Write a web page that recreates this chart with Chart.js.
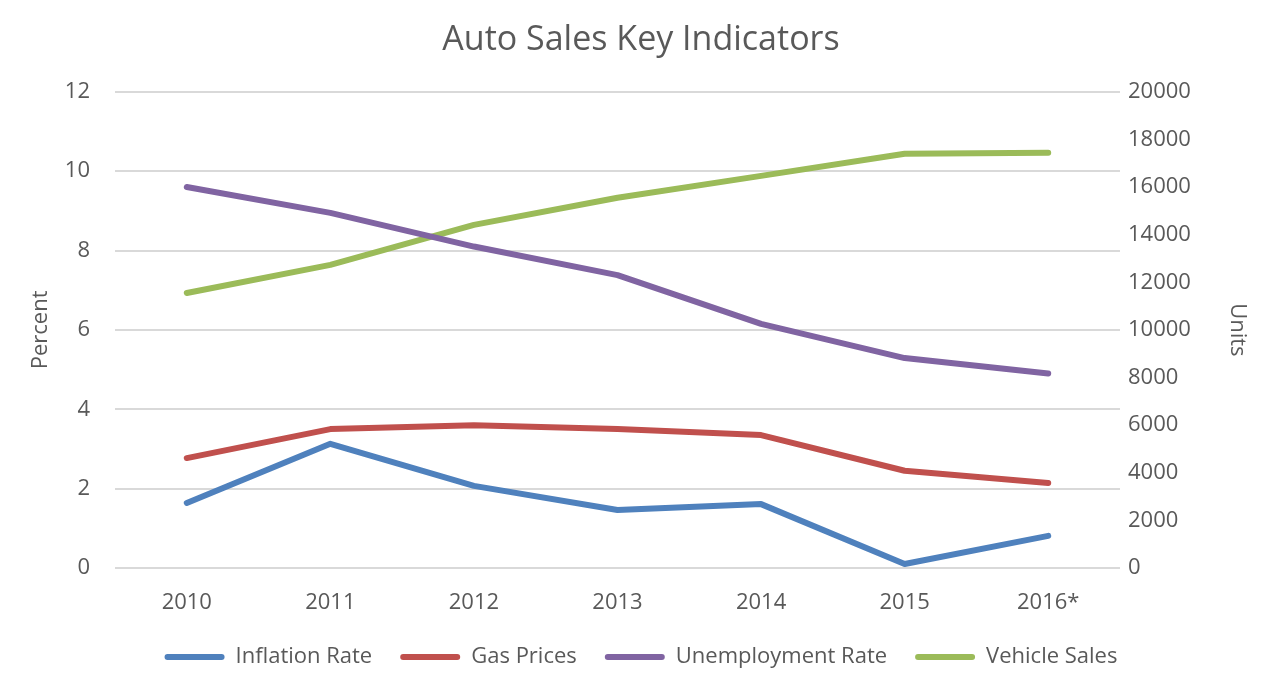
<!DOCTYPE html>
<html>
<head>
<meta charset="utf-8">
<script src="https://cdn.jsdelivr.net/npm/chart.js@4"></script>
<style>
  html, body { margin: 0; padding: 0; background: #fff; }
  #wrap { width: 1283px; height: 681px; }
</style>
</head>
<body>
<div id="wrap"><canvas id="salesChart"></canvas></div>
<script>
// Chart data
const years = ["2010", "2011", "2012", "2013", "2014", "2015", "2016*"];
const inflationRate = [1.64, 3.13, 2.07, 1.46, 1.61, 0.1, 0.81];
const gasPrices = [2.77, 3.5, 3.6, 3.5, 3.35, 2.45, 2.14];
const unemploymentRate = [9.6, 8.95, 8.1, 7.38, 6.15, 5.29, 4.9];
const vehicleSales = [11550, 12730, 14410, 15550, 16470, 17400, 17440];

const textColor = "#595959";
const fontFamily = "'Open Sans', 'Noto Sans', sans-serif";
const tickFont = { family: fontFamily, size: 22 };

function lineSeries(label, data, color, axis) {
  return {
    label,
    data,
    yAxisID: axis,
    borderColor: color,
    backgroundColor: color,
    borderWidth: 6,
    pointRadius: 0,
    tension: 0,
    borderCapStyle: "round",
    borderJoinStyle: "round",
  };
}

const ctx = document.getElementById("salesChart").getContext("2d");
new Chart(ctx, {
  type: "line",
  data: {
    labels: years,
    datasets: [
      lineSeries("Inflation Rate", inflationRate, "#4F81BD", "y"),
      lineSeries("Gas Prices", gasPrices, "#C0504D", "y"),
      lineSeries("Unemployment Rate", unemploymentRate, "#8064A2", "y"),
      lineSeries("Vehicle Sales", vehicleSales, "#9BBB59", "y1"),
    ],
  },
  options: {
    responsive: true,
    maintainAspectRatio: false,
    animation: false,
    layout: { padding: { left: 24, right: 25, top: 10, bottom: 3 } },
    plugins: {
      title: {
        display: true,
        text: "Auto Sales Key Indicators",
        color: textColor,
        font: { family: fontFamily, size: 34, weight: "normal" },
        padding: { top: 10, bottom: 31 },
      },
      legend: {
        position: "bottom",
        labels: {
          color: textColor,
          font: { family: fontFamily, size: 22 },
          boxWidth: 60,
          boxHeight: 6,
          padding: 28,
          useBorderRadius: true,
          borderRadius: 3,
          generateLabels(chart) {
            return Chart.defaults.plugins.legend.labels.generateLabels(chart).map(item => {
              item.lineWidth = 0;
              return item;
            });
          },
        },
      },
      tooltip: { enabled: false },
    },
    scales: {
      x: {
        offset: true,
        grid: { display: false },
        border: { display: false },
        ticks: { color: textColor, font: tickFont, padding: 14 },
        afterFit: (scale) => { scale.height = 50; },
      },
      y: {
        position: "left",
        min: 0,
        max: 12,
        ticks: { stepSize: 2, color: textColor, font: tickFont, padding: 25 },
        grid: { color: "#D9D9D9", lineWidth: 2, drawTicks: false },
        border: { display: false },
        title: {
          display: true,
          text: "Percent",
          color: textColor,
          font: { family: fontFamily, size: 22 },
          padding: { top: 4, bottom: 0 },
        },
        afterFit: (scale) => { scale.width = 91; },
      },
      y1: {
        position: "right",
        min: 0,
        max: 20000,
        ticks: {
          stepSize: 2000,
          color: textColor,
          font: tickFont,
          padding: 8,
          callback: (value) => String(value),
        },
        grid: { display: false, drawTicks: false },
        border: { display: false },
        title: {
          display: true,
          text: "Units",
          color: textColor,
          font: { family: fontFamily, size: 22 },
          padding: { top: 8, bottom: 30 },
        },
        afterFit: (scale) => { scale.width = 138; },
      },
    },
  },
});
</script>
</body>
</html>
